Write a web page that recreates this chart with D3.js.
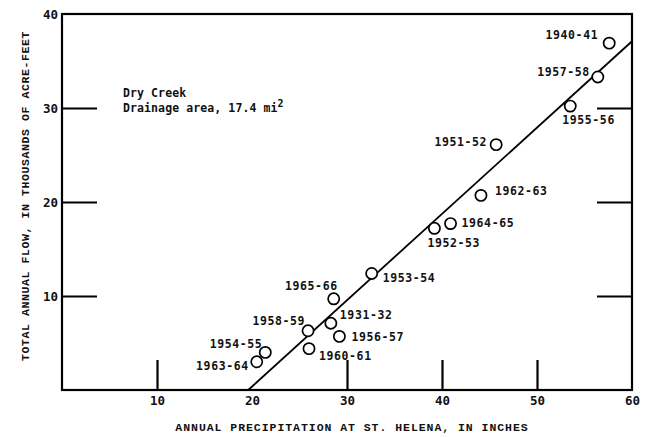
<!DOCTYPE html>
<html>
<head>
<meta charset="utf-8">
<script src="https://cdn.jsdelivr.net/npm/d3@7"></script>
<style>
  html, body { margin: 0; padding: 0; background: #fff; }
  svg { display: block; }
  .lbl { font-family: "DejaVu Sans Mono", monospace; font-weight: bold; font-size: 11.5px; fill: #111; letter-spacing: 0.6px; }
  .tick text { font-family: "DejaVu Sans Mono", monospace; font-weight: bold; font-size: 12.5px; fill: #111; }
  .title { font-family: "Liberation Mono", "Courier New", monospace; font-weight: bold; font-size: 11.5px; fill: #111; letter-spacing: 0.6px; }
  .xtitle { letter-spacing: 0.95px; }
  .note { font-family: "DejaVu Sans Mono", monospace; font-size: 11.5px; fill: #111; font-weight: bold; letter-spacing: 0.1px; }
</style>
</head>
<body>
<div id="chart"></div>
<script>
// Water years at Dry Creek
const years = ["1940-41", "1957-58", "1955-56", "1951-52", "1962-63", "1964-65", "1952-53",
               "1953-54", "1965-66", "1931-32", "1956-57", "1958-59", "1960-61", "1954-55", "1963-64"];
// Annual precipitation at St. Helena, inches
const precip = [57.6, 56.4, 53.5, 45.7, 44.1, 40.9, 39.2, 32.6, 28.6, 28.3, 29.2, 25.9, 26.0, 21.4, 20.5];
// Total annual flow, thousands of acre-feet
const flow = [36.9, 33.3, 30.2, 26.1, 20.7, 17.7, 17.2, 12.4, 9.7, 7.1, 5.7, 6.3, 4.4, 4.0, 3.0];

// Fitted relation (end points)
const fitPrecip = [19.6, 60];
const fitFlow = [0, 37.1];

// Axis ticks
const xTickLabels = [10, 20, 30, 40, 50, 60];
const xTickMarks = [10, 30, 40, 50];
const yTickLabels = [10, 20, 30, 40];
const yTickMarks = [10, 20, 30];

// Where each year's label sits relative to its circle
const labelPlacement = {
  "1940-41": { anchor: "end",   dx: -11, dy: -8 },
  "1957-58": { anchor: "end",   dx: -8,  dy: -5 },
  "1955-56": { anchor: "start", dx: -8,  dy: 14 },
  "1951-52": { anchor: "end",   dx: -9,  dy: -3 },
  "1962-63": { anchor: "start", dx: 14,  dy: -4 },
  "1964-65": { anchor: "start", dx: 11,  dy: -1 },
  "1952-53": { anchor: "start", dx: -7,  dy: 15 },
  "1953-54": { anchor: "start", dx: 11,  dy: 5 },
  "1965-66": { anchor: "end",   dx: 4,   dy: -13 },
  "1931-32": { anchor: "start", dx: 9,   dy: -8 },
  "1956-57": { anchor: "start", dx: 12,  dy: 1 },
  "1958-59": { anchor: "end",   dx: -3,  dy: -10 },
  "1960-61": { anchor: "start", dx: 10,  dy: 7 },
  "1954-55": { anchor: "end",   dx: -3,  dy: -8 },
  "1963-64": { anchor: "end",   dx: -8,  dy: 4 }
};

const W = 645, H = 437;
const margin = { left: 62, right: 13, top: 14, bottom: 47 };
const iw = W - margin.left - margin.right;
const ih = H - margin.top - margin.bottom;

const x = d3.scaleLinear().domain([0, 60]).range([0, iw]);
const y = d3.scaleLinear().domain([0, 40]).range([ih, 0]);

const svg = d3.select("#chart").append("svg")
  .attr("width", W).attr("height", H);

const g = svg.append("g").attr("transform", `translate(${margin.left},${margin.top})`);

// Tick labels
const xLab = g.append("g").attr("transform", `translate(0,${ih})`)
  .call(d3.axisBottom(x).tickValues(xTickLabels).tickSize(0).tickPadding(6).tickFormat(d3.format("d")));
const yLab = g.append("g")
  .call(d3.axisLeft(y).tickValues(yTickLabels).tickSize(0).tickPadding(4).tickFormat(d3.format("d")));
[xLab, yLab].forEach(a => a.select(".domain").remove());

// Inward tick marks on bottom, left and right
const xMarks = g.append("g").attr("transform", `translate(0,${ih})`)
  .call(d3.axisBottom(x).tickValues(xTickMarks).tickSize(-30).tickFormat(""));
const yMarksL = g.append("g")
  .call(d3.axisLeft(y).tickValues(yTickMarks).tickSize(-35).tickFormat(""));
const yMarksR = g.append("g").attr("transform", `translate(${iw},0)`)
  .call(d3.axisRight(y).tickValues(yTickMarks).tickSize(-35).tickFormat(""));
[xMarks, yMarksL, yMarksR].forEach(a => {
  a.select(".domain").remove();
  a.selectAll(".tick line").attr("stroke", "#000").attr("stroke-width", 2.2);
});

// Frame
g.append("rect")
  .attr("x", 0).attr("y", 0).attr("width", iw).attr("height", ih)
  .attr("fill", "none").attr("stroke", "#000").attr("stroke-width", 2.2);

// Fitted line
g.append("line")
  .attr("x1", x(fitPrecip[0])).attr("y1", y(fitFlow[0]))
  .attr("x2", x(fitPrecip[1])).attr("y2", y(fitFlow[1]))
  .attr("stroke", "#000").attr("stroke-width", 1.8);

// Points
const pts = years.map((yr, i) => ({ yr, p: precip[i], f: flow[i] }));

g.selectAll("circle.pt").data(pts).join("circle")
  .attr("class", "pt")
  .attr("cx", d => x(d.p)).attr("cy", d => y(d.f))
  .attr("r", 5.6)
  .attr("fill", "#fff").attr("stroke", "#000").attr("stroke-width", 1.7);

g.selectAll("text.lbl").data(pts).join("text")
  .attr("class", "lbl")
  .attr("x", d => x(d.p) + labelPlacement[d.yr].dx)
  .attr("y", d => y(d.f) + labelPlacement[d.yr].dy)
  .attr("dy", "0.35em")
  .attr("text-anchor", d => labelPlacement[d.yr].anchor)
  .text(d => d.yr);

// Station note
const note = g.append("text").attr("class", "note")
  .attr("x", 61).attr("y", 83);
note.append("tspan").attr("x", 61).text("Dry Creek");
note.append("tspan").attr("x", 61).attr("dy", 15).text("Drainage area, 17.4 mi");
note.append("tspan").attr("dy", -5).attr("font-size", "10px").text("2");

// Axis titles
svg.append("text").attr("class", "title xtitle")
  .attr("x", 352).attr("y", 431)
  .attr("text-anchor", "middle")
  .text("ANNUAL PRECIPITATION AT ST. HELENA, IN INCHES");

svg.append("text").attr("class", "title")
  .attr("transform", `translate(29,${196}) rotate(-90)`)
  .attr("text-anchor", "middle")
  .text("TOTAL ANNUAL FLOW, IN THOUSANDS OF ACRE-FEET");
</script>
</body>
</html>
